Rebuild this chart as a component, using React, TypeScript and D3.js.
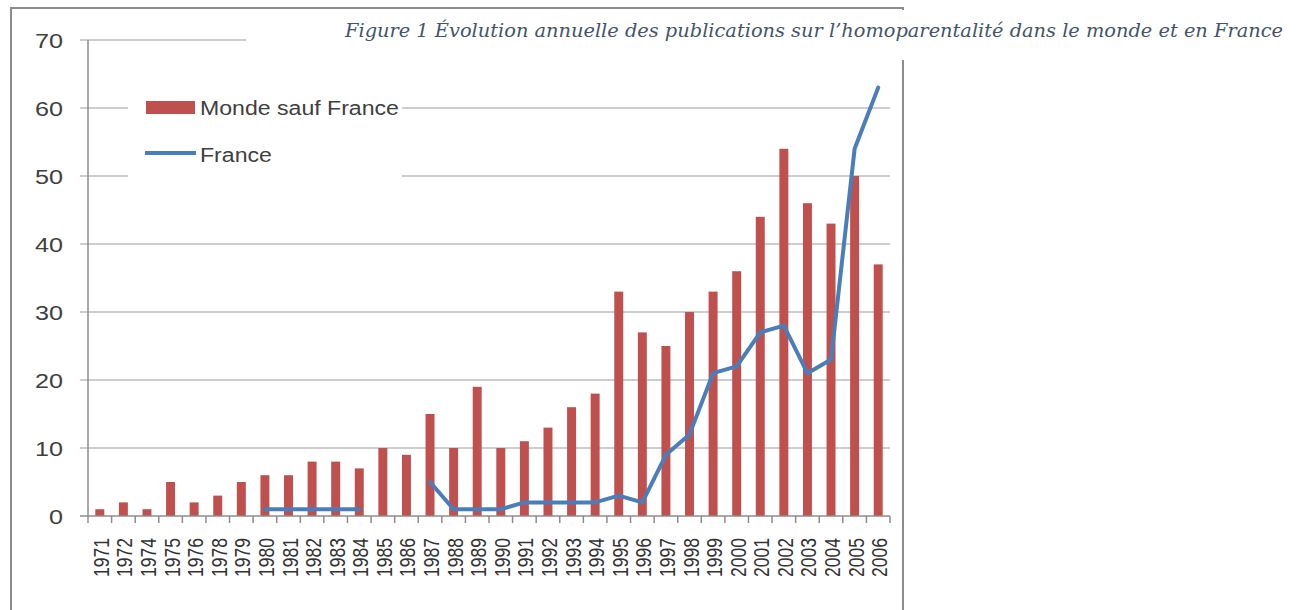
import React, { useEffect, useRef } from "react";
import * as d3 from "d3";

const years = [
    "1971", "1972", "1974", "1975", "1976", "1978", "1979", "1980", "1981", "1982",
    "1983", "1984", "1985", "1986", "1987", "1988", "1989", "1990", "1991", "1992",
    "1993", "1994", "1995", "1996", "1997", "1998", "1999", "2000", "2001", "2002",
    "2003", "2004", "2005", "2006"
];

const mondeSaufFrance = [
    1, 2, 1, 5, 2, 3, 5, 6, 6, 8,
    8, 7, 10, 9, 15, 10, 19, 10, 11, 13,
    16, 18, 33, 27, 25, 30, 33, 36, 44, 54,
    46, 43, 50, 37
];

const france: (number | null)[] = [
    null, null, null, null, null, null, null, 1, 1, 1,
    1, 1, null, null, 5, 1, 1, 1, 2, 2,
    2, 2, 3, 2, 9, 12, 21, 22, 27, 28,
    21, 23, 54, 63
];

const yTicks = [0, 10, 20, 30, 40, 50, 60, 70];

const seriesNames = ["Monde sauf France", "France"];

const titleText = "Figure 1 Évolution annuelle des publications sur l’homoparentalité dans le monde et en France";

export default function App() {
    const svgRef = useRef(null);
    const width = 1298;
    const height = 610;

    useEffect(() => {
        const margin = { top: 40, right: 408, bottom: 94, left: 88 };
        const barColor = "#C0504D";
        const lineColor = "#4A7EBB";
        const gray = "#8c8c8c";
        const font = "'Liberation Sans', Arial, sans-serif";

        const svg = d3.select(svgRef.current)
            .attr("width", width)
            .attr("height", height);

        svg.selectAll("*").remove();

        svg.append("rect")
            .attr("width", width)
            .attr("height", height)
            .attr("fill", "#ffffff");

        // outer frame of the pasted chart
        svg.append("path")
            .attr("d", `M11,${height} V8 H903 V${height}`)
            .attr("fill", "none")
            .attr("stroke", gray)
            .attr("stroke-width", 2);

        const xScale = d3.scaleBand()
            .domain(years)
            .range([margin.left, width - margin.right])
            .padding(0);

        const yScale = d3.scaleLinear()
            .domain([0, 70])
            .range([height - margin.bottom, margin.top]);

        const x0 = margin.left;
        const x1 = width - margin.right;
        const yBase = yScale(0);

        // grid lines
        svg.append("g")
            .selectAll("line")
            .data(yTicks.filter(t => t > 0))
            .join("line")
            .attr("x1", x0 - 8)
            .attr("x2", x1)
            .attr("y1", d => yScale(d))
            .attr("y2", d => yScale(d))
            .attr("stroke", "#bdbdbd")
            .attr("stroke-width", 1.5);

        // y axis
        svg.append("line")
            .attr("x1", x0).attr("x2", x0)
            .attr("y1", yScale(70)).attr("y2", yBase)
            .attr("stroke", gray)
            .attr("stroke-width", 1.5);

        svg.append("line")
            .attr("x1", x0 - 8).attr("x2", x0)
            .attr("y1", yBase).attr("y2", yBase)
            .attr("stroke", gray)
            .attr("stroke-width", 1.5);

        svg.append("g")
            .selectAll("text")
            .data(yTicks)
            .join("text")
            .attr("transform", d => `translate(63,${yScale(d) + 7.5}) scale(1.2,1)`)
            .attr("text-anchor", "end")
            .style("font-family", font)
            .style("font-size", "21px")
            .style("fill", "#404040")
            .text(d => d);

        // bars
        const barW = xScale.bandwidth() * 0.38;
        svg.append("g")
            .selectAll("rect")
            .data(mondeSaufFrance)
            .join("rect")
            .attr("x", (d, i) => xScale(years[i]) + (xScale.bandwidth() - barW) / 2)
            .attr("y", d => yScale(d))
            .attr("width", barW)
            .attr("height", d => yBase - yScale(d))
            .attr("fill", barColor);

        // x axis
        svg.append("line")
            .attr("x1", x0).attr("x2", x1)
            .attr("y1", yBase).attr("y2", yBase)
            .attr("stroke", gray)
            .attr("stroke-width", 1.5);

        const boundaries = years.map(y => xScale(y)).concat([x1]);
        svg.append("g")
            .selectAll("line")
            .data(boundaries)
            .join("line")
            .attr("x1", d => d).attr("x2", d => d)
            .attr("y1", yBase).attr("y2", yBase + 7)
            .attr("stroke", gray)
            .attr("stroke-width", 1.5);

        svg.append("g")
            .selectAll("text")
            .data(years)
            .join("text")
            .attr("transform", d => `translate(${xScale(d) + xScale.bandwidth() / 2 + 9},${yBase + 22}) scale(1.22,1) rotate(-90)`)
            .attr("text-anchor", "end")
            .style("font-family", font)
            .style("font-size", "17.5px")
            .style("fill", "#333333")
            .text(d => d);

        // France line
        const line = d3.line<number | null>()
            .defined(d => d != null)
            .x((d, i) => xScale(years[i]) + xScale.bandwidth() / 2)
            .y(d => yScale(d as number));

        svg.append("path")
            .datum(france)
            .attr("d", line)
            .attr("fill", "none")
            .attr("stroke", lineColor)
            .attr("stroke-width", 4)
            .attr("stroke-linejoin", "round")
            .attr("stroke-linecap", "round");

        // legend
        const legend = svg.append("g");
        legend.append("rect")
            .attr("x", 128).attr("y", 80)
            .attr("width", 274).attr("height", 108)
            .attr("fill", "#ffffff");

        legend.append("rect")
            .attr("x", 146).attr("y", 101)
            .attr("width", 49).attr("height", 13)
            .attr("fill", barColor);

        legend.append("line")
            .attr("x1", 145).attr("x2", 196)
            .attr("y1", 153).attr("y2", 153)
            .attr("stroke", lineColor)
            .attr("stroke-width", 4);

        legend.selectAll("text")
            .data(seriesNames)
            .join("text")
            .attr("transform", (d, i) => `translate(200,${115 + i * 47}) scale(1.1,1)`)
            .style("font-family", font)
            .style("font-size", "21px")
            .style("fill", "#404040")
            .text(d => d);

        // caption box over the top of the chart
        svg.append("rect")
            .attr("x", 246).attr("y", 10)
            .attr("width", width - 246).attr("height", 50)
            .attr("fill", "#ffffff");

        svg.append("text")
            .attr("x", 345)
            .attr("y", 37)
            .attr("textLength", 938)
            .attr("lengthAdjust", "spacingAndGlyphs")
            .style("font-family", "'DejaVu Serif', serif")
            .style("font-style", "italic")
            .style("font-size", "19px")
            .style("fill", "#44546A")
            .text(titleText);
    }, []);

    return <svg ref={svgRef} style={{ position: "absolute", left: 0, top: 0 }} />;
}
